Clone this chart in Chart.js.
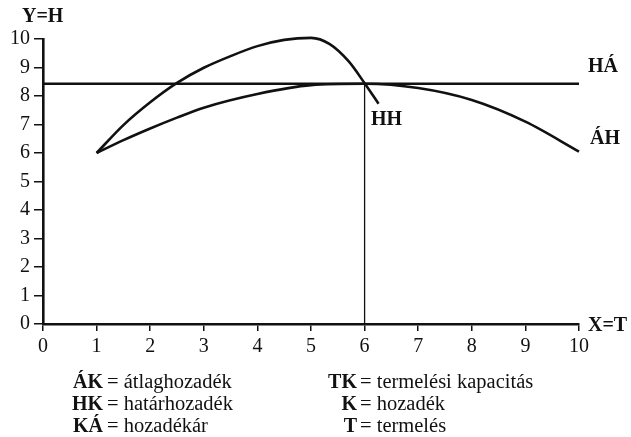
<!DOCTYPE html>
<html>
<head>
<meta charset="utf-8">
<script src="https://cdn.jsdelivr.net/npm/chart.js@4"></script>
<style>
  html, body { margin: 0; padding: 0; background: #fff; }
  #wrap { width: 631px; height: 437px; }
</style>
</head>
<body>
<div id="wrap"><canvas id="yieldChart" width="631" height="437"></canvas></div>
<script>
// values
const xTicks = [0, 1, 2, 3, 4, 5, 6, 7, 8, 9, 10];
const yTicks = [0, 1, 2, 3, 4, 5, 6, 7, 8, 9, 10];

// ÁH - average yield
const ahX = [1, 1.5, 2, 2.5, 3, 4, 5, 6, 7, 8, 9, 10];
const ahY = [6.0, 6.45, 6.86, 7.24, 7.59, 8.07, 8.38, 8.43, 8.28, 7.86, 7.1, 6.05];

// HH - marginal yield
const hhX = [1, 1.5, 2, 2.5, 3, 3.5, 4, 4.5, 5, 5.35, 5.7, 6, 6.26];
const hhY = [6.0, 6.98, 7.78, 8.46, 8.99, 9.4, 9.75, 9.97, 10.04, 9.82, 9.22, 8.45, 7.73];

// HÁ - yield price
const haX = [0, 10];
const haY = [8.43, 8.43];

const optimumX = [6, 6];
const optimumY = [0, 8.43];

const toPoints = (xs, ys) => xs.map((x, i) => ({ x: x, y: ys[i] }));

const SERIF = '"Liberation Serif", "DejaVu Serif", serif';

const textPlugin = {
  id: 'texts',
  afterDraw(chart) {
    const c = chart.ctx;
    c.save();
    c.fillStyle = '#111';
    c.textBaseline = 'alphabetic';

    c.font = 'bold 20px ' + SERIF;
    c.textAlign = 'left';
    c.fillText('Y=H', 22, 22);
    c.fillText('X=T', 588, 331);
    c.fillText('HÁ', 588, 72);
    c.fillText('ÁH', 590, 144);
    c.fillText('HH', 371, 125);

    // legend block under the axis
    const rows = [
      ['ÁK', 'átlaghozadék', 'TK', 'termelési kapacitás'],
      ['HK', 'határhozadék', 'K', 'hozadék'],
      ['KÁ', 'hozadékár', 'T', 'termelés']
    ];
    rows.forEach((r, i) => {
      const y = 388 + i * 22;
      c.font = 'bold 20px ' + SERIF;
      c.textAlign = 'right';
      c.fillText(r[0], 103, y);
      c.fillText(r[2], 357, y);
      c.font = '20.5px ' + SERIF;
      c.textAlign = 'left';
      c.fillText('= ' + r[1], 107, y);
      c.fillText('= ' + r[3], 360, y);
    });
    c.restore();
  }
};

const lineStyle = {
  borderColor: '#111',
  borderWidth: 2.6,
  pointRadius: 0,
  fill: false,
  showLine: true
};

new Chart(document.getElementById('yieldChart'), {
  type: 'scatter',
  data: {
    datasets: [
      Object.assign({ label: 'ÁH', data: toPoints(ahX, ahY), cubicInterpolationMode: 'monotone' }, lineStyle),
      Object.assign({ label: 'HH', data: toPoints(hhX, hhY), cubicInterpolationMode: 'monotone' }, lineStyle),
      Object.assign({ label: 'HÁ', data: toPoints(haX, haY) }, lineStyle),
      Object.assign({}, lineStyle, { label: 'TK', data: toPoints(optimumX, optimumY), borderWidth: 1.3 })
    ]
  },
  plugins: [textPlugin],
  options: {
    responsive: false,
    animation: false,
    clip: false,
    layout: { padding: { left: 0, top: 39, right: 52, bottom: 77 } },
    plugins: {
      legend: { display: false },
      tooltip: { enabled: false }
    },
    scales: {
      x: {
        type: 'linear',
        min: 0,
        max: 10,
        afterBuildTicks: (s) => { s.ticks = xTicks.map(v => ({ value: v })); },
        afterFit: (s) => { s.height = 36; },
        grid: { drawOnChartArea: false, drawTicks: true, tickLength: 7, color: '#111', lineWidth: 1.5 },
        border: { display: true, color: '#111', width: 2.6 },
        ticks: { color: '#111', padding: 4, font: { family: SERIF, size: 20 } }
      },
      y: {
        type: 'linear',
        min: 0,
        max: 10,
        afterBuildTicks: (s) => { s.ticks = yTicks.map(v => ({ value: v })); },
        afterFit: (s) => { s.width = 43; },
        grid: { drawOnChartArea: false, drawTicks: true, tickLength: 9, color: '#111', lineWidth: 1.5 },
        border: { display: true, color: '#111', width: 2.6 },
        ticks: { color: '#111', padding: 4, font: { family: SERIF, size: 20 } }
      }
    }
  }
});
</script>
</body>
</html>
